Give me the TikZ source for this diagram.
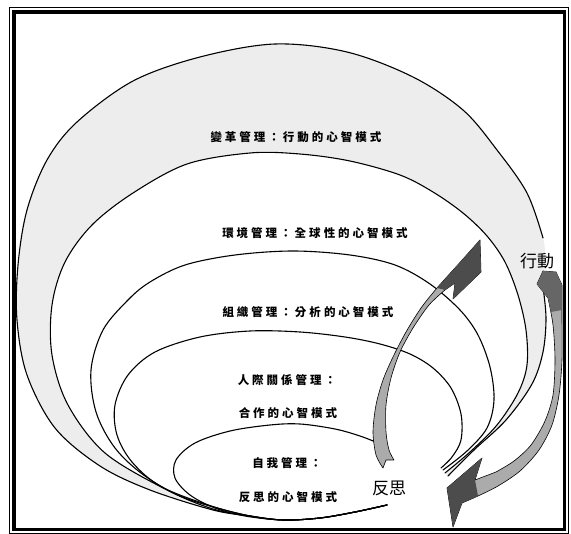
\documentclass[tikz,border=0pt]{standalone}
\usepackage{fontspec}
\newfontfamily\cjk{Noto Sans CJK TC}
\ExplSyntaxOn
\NewDocumentCommand\spaced{m}{\tl_map_inline:nn{#1}{##1\kern3pt}\kern-3pt}
\ExplSyntaxOff
\begin{document}
\begin{tikzpicture}[x=1pt,y=-1pt,
  curve/.style={line width=1.1pt, line join=round, line cap=round},
  lbl/.style={font=\cjk\bfseries\fontsize{11.5}{12}\selectfont, inner sep=0pt},
  big/.style={font=\cjk\fontsize{17}{17}\selectfont, inner sep=0pt},
  band/.style={fill=black!7},
  arrowbody/.style={fill=black!33, draw=black, line width=0.6pt, line join=round},
  arrowdark/.style={fill=black!70}]
\useasboundingbox (0,0) rectangle (571,534);

% light stippled band between outermost and second loop
\fill[band] plot[smooth,tension=0.55] coordinates {(387,505) (355,512) (320,518) (283,520) (250,516) (213,510) (150,490) (100,466) (55,428) (27,375) (17,320) (18,265) (27,210) (47,160) (77,122) (133,81) (200,57) (275,44) (347,52) (413,77) (463,110) (497,150) (527,193) (543,238) (545,262) (543,287) (546,318) (543,352) (532,384) (506,420) (474,450) (448,476)} -- (445,473) -- cycle;
\filldraw[fill=white, draw=white, line width=1.4pt] plot[smooth,tension=0.55] coordinates {(387,505) (355,512) (320,518) (283,520) (250,516) (213,509) (167,490) (105,453) (68,405) (52,355) (52,305) (65,262) (92,225) (133,193) (187,164) (250,153) (300,154) (350,161) (400,175) (433,192) (463,213) (487,236) (505,262) (518,295) (526,330) (527,365) (518,393) (497,425) (470,452) (445,473)} -- cycle;

% loop 1 (outermost)
\draw[curve] plot[smooth,tension=0.55] coordinates {(387,505) (355,512) (320,518) (283,520) (250,516) (213,510) (150,490) (100,466) (55,428) (27,375) (17,320) (18,265) (27,210) (47,160) (77,122) (133,81) (200,57) (275,44) (347,52) (413,77) (463,110) (497,150) (527,193) (543,238)};
\draw[curve] plot[smooth,tension=0.55] coordinates {(543,287) (546,318) (543,352) (532,384) (506,420) (474,450) (448,476)};
% loop 2
\draw[curve] plot[smooth,tension=0.55] coordinates {(387,505) (355,512) (320,518) (283,520) (250,516) (213,509) (167,490) (105,453) (68,405) (52,355) (52,305) (65,262) (92,225) (133,193) (187,164) (250,153) (300,154) (350,161) (400,175) (433,192) (463,213) (487,236) (505,262) (518,295) (526,330) (527,365) (518,393) (497,425) (470,452) (445,473)};
% loop 3
\draw[curve] plot[smooth,tension=0.55] coordinates {(387,505) (355,512) (320,518) (283,520) (245,515) (185,498) (145,476) (115,448) (96,412) (91,370) (103,330) (128,300) (150,282) (185,265) (235,255) (293,251) (350,255) (395,265) (430,284) (460,310) (478,335) (490,367) (494,400) (487,428) (467,451) (443,470)};
% loop 4
\draw[curve] plot[smooth,tension=0.55] coordinates {(387,505) (355,512) (320,518) (283,520) (245,515) (205,504) (160,486) (132,462) (117,435) (115,405) (128,375) (155,352) (200,337) (250,331) (300,332) (345,337) (380,344) (410,354) (433,368) (451,388) (461,414) (461,440) (452,457) (441,468)};
% loop 5 (innermost)
\draw[curve] plot[smooth,tension=0.55] coordinates {(387,505) (355,512) (320,518) (283,520) (245,516) (215,508) (190,495) (175,478) (176,460) (195,443) (230,431) (270,425) (300,424) (335,429) (360,436) (378,443)};

% arrow: reflection -> action
\filldraw[arrowbody] plot[smooth,tension=0.5] coordinates {(383,468) (376,455) (373,432) (376,405) (383,380) (393,357) (406,332) (421,308) (437,288) (455,268)} -- (480,240) -- (481,272) -- (453,299) -- (455,283) -- plot[smooth,tension=0.5] coordinates {(445,290) (429,305) (413,328) (400,352) (391,378) (386,405) (386,432) (389,450) (394,460)} -- (386,460) -- cycle;
\fill[arrowdark] (437,288) -- (455,268) -- (480,240) -- (481,272) -- (453,299) -- (455,283) -- (445,290) -- cycle;

% arrow: action -> reflection
\filldraw[arrowbody] (537,284) -- (543,271) -- (556,272) -- (562,285) -- plot[smooth,tension=0.5] coordinates {(562,320) (562,360) (559,395) (552,425) (539,450) (520,471) (498,486) (478,496) (462,503)} -- (453,527) -- (447,488) -- (482,458) -- (475,480) -- plot[smooth,tension=0.5] coordinates {(496,472) (514,461) (531,445) (545,421) (553,395) (555,360) (553,325) (548,298)} -- cycle;
\fill[arrowdark] (482,458) -- (475,480) -- (478,496) -- (462,503) -- (453,527) -- (447,488) -- cycle;
\fill[black!60] (537,284) -- (543,271) -- (556,272) -- (562,285) -- (562,310) -- (551,312) -- (548,298) -- cycle;

% texts
\node[lbl] (t1) at (296,137) {\spaced{變革管理：行動的心智模式}};
\node[lbl] (t2) at (315,233) {\spaced{環境管理：全球性的心智模式}};
\node[lbl] (t3) at (308,312) {\spaced{組織管理：分析的心智模式}};
\node[lbl] (t4a) at (287,380) {\spaced{人際關係管理：}};
\node[lbl] (t4b) at (288,413) {\spaced{合作的心智模式}};
\node[lbl] (t5a) at (287,463) {\spaced{自我管理：}};
\node[lbl] (t5b) at (288,497) {\spaced{反思的心智模式}};
\node[big] (refl) at (389,488) {反思};
\node[big] (act) at (537,261) {行動};

% frame
\draw[line width=3.5pt] (14,12) rectangle (564.5,529.5);
\draw[line width=0.6pt] (9.5,7.5) rectangle (568.5,533);
\end{tikzpicture}
\end{document}
